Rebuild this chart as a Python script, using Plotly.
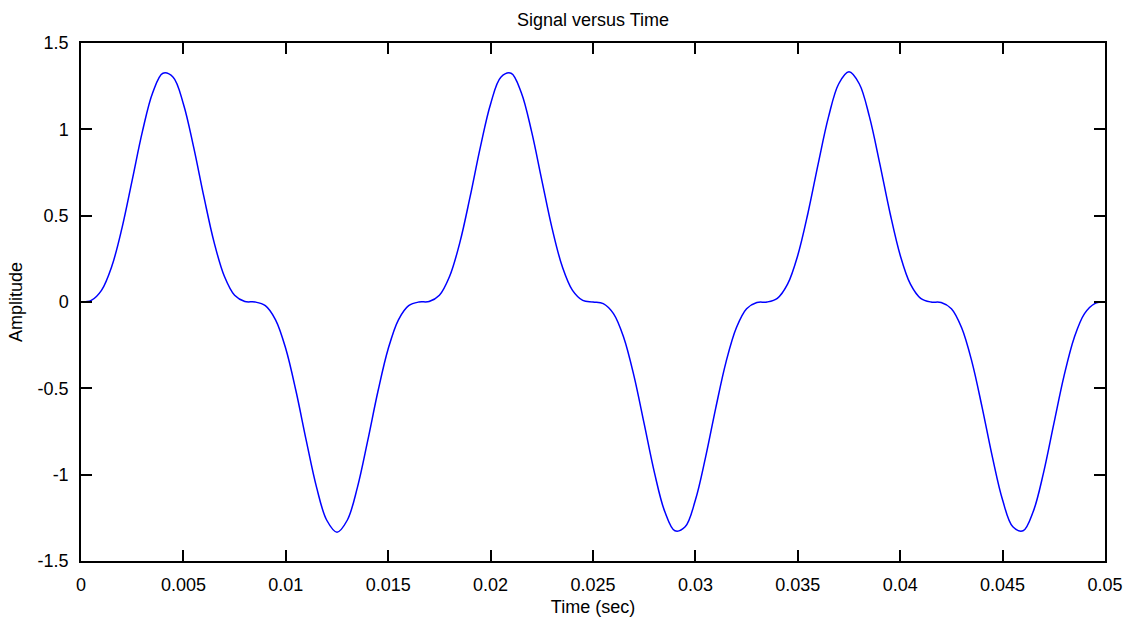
import plotly.graph_objects as go

# Sampled signal: time (s) and amplitude, one sample every 0.5 ms
time_s = [round(0.0005 * i, 4) for i in range(101)]
amplitude = [
    0.000, 0.009, 0.067, 0.205, 0.428, 0.706, 0.988, 1.212, 1.325, 1.302,
    1.147, 0.897, 0.610, 0.345, 0.149, 0.039, 0.003, -0.000, -0.021, -0.103,
    -0.271, -0.517, -0.803, -1.072, -1.264, -1.333, -1.264, -1.072, -0.803, -0.517,
    -0.271, -0.103, -0.021, -0.000, 0.003, 0.039, 0.149, 0.345, 0.610, 0.897,
    1.147, 1.302, 1.325, 1.212, 0.988, 0.706, 0.428, 0.205, 0.067, 0.009,
    0.000, -0.009, -0.067, -0.205, -0.428, -0.706, -0.988, -1.212, -1.325, -1.302,
    -1.147, -0.897, -0.610, -0.345, -0.149, -0.039, -0.003, 0.000, 0.021, 0.103,
    0.271, 0.517, 0.803, 1.072, 1.264, 1.333, 1.264, 1.072, 0.803, 0.517,
    0.271, 0.103, 0.021, 0.000, -0.003, -0.039, -0.149, -0.345, -0.610, -0.897,
    -1.147, -1.302, -1.325, -1.212, -0.988, -0.706, -0.428, -0.205, -0.067, -0.009,
    0.000,
]

x_tick_vals = [0, 0.005, 0.01, 0.015, 0.02, 0.025, 0.03, 0.035, 0.04, 0.045, 0.05]
x_tick_text = ["0", "0.005", "0.01", "0.015", "0.02", "0.025", "0.03", "0.035", "0.04", "0.045", "0.05"]
y_tick_vals = [-1.5, -1, -0.5, 0, 0.5, 1, 1.5]
y_tick_text = ["-1.5", "-1", "-0.5", "0", "0.5", "1", "1.5"]

FONT = "Liberation Sans, Arial, sans-serif"
FONT_SIZE = 18

fig = go.Figure()
fig.add_trace(go.Scatter(
    x=time_s, y=amplitude, mode="lines",
    line=dict(color="#0000ff", width=1.5, shape="spline", smoothing=1.0),
    showlegend=False, hoverinfo="skip",
))

axis_common = dict(
    showline=True, linecolor="black", linewidth=1.5, mirror="ticks",
    ticks="inside", ticklen=11, tickwidth=1.5, tickcolor="black",
    showgrid=False, zeroline=False,
    tickfont=dict(family=FONT, size=FONT_SIZE, color="black"),
    ticklabelstandoff=7,
)

fig.update_layout(
    width=1135, height=626,
    margin=dict(l=81, r=30, t=43, b=61),
    paper_bgcolor="white", plot_bgcolor="white",
    title=dict(text="Signal versus Time", x=0.5, xref="paper", y=1 - 20 / 626,
               yanchor="middle", xanchor="center",
               font=dict(family=FONT, size=FONT_SIZE, color="black")),
    xaxis=dict(range=[0, 0.05], tickvals=x_tick_vals, ticktext=x_tick_text,
               title=dict(text="Time (sec)", standoff=6,
                          font=dict(family=FONT, size=FONT_SIZE, color="black")),
               **axis_common),
    yaxis=dict(range=[-1.5, 1.5], tickvals=y_tick_vals, ticktext=y_tick_text,
               title=dict(text="Amplitude", standoff=10,
                          font=dict(family=FONT, size=FONT_SIZE, color="black")),
               **axis_common),
)

fig.write_html("out.html")
